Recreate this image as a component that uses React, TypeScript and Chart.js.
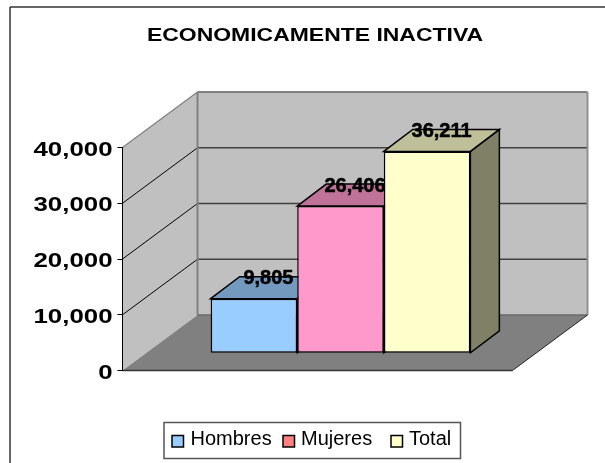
import React, { useEffect, useRef } from "react";
import { Chart, registerables, LinearScale } from "chart.js";

const chartTitle = "ECONOMICAMENTE INACTIVA";
const categories = [""];
const seriesNames = ["Hombres", "Mujeres", "Total"];
const hombres = [9805];
const mujeres = [26406];
const total = [36211];
const frontColors = ["#99CCFF", "#FF99CC", "#FFFFCC"];
const topColors = ["#7399BF", "#BF7399", "#BFBF99"];
const sideColors = ["#4D6680", "#804D66", "#808066"];
const legendColors = ["#99CCFF", "#FF8080", "#FFFFCC"];
const legendSwatchX = [172, 283, 391];
const legendTextX = [190.5, 301, 409];

const FONT = '"Liberation Sans", Arial, sans-serif';
const WALL_DX = 75;
const WALL_DY = -55.5;
const BAR_DX = 23;
const BAR_DY = -17.2;
const BAR_DEPTH_X = 29;
const BAR_DEPTH_Y = -22;
const TICK_STRETCH = 1.23;
const TITLE_STRETCH = 1.208;

class StretchedLinear extends LinearScale {
  static id = "stretchedLinear";
  static defaults = LinearScale.defaults;
  drawLabels(area: any) {
    const ctx = this.ctx;
    const anchor = this.left + this.width - 10;
    ctx.save();
    ctx.translate(anchor, 2.4);
    ctx.scale(TICK_STRETCH, 1);
    ctx.translate(-anchor, 0);
    super.drawLabels(area);
    ctx.restore();
  }
}

Chart.register(...registerables, StretchedLinear);

function poly(ctx: CanvasRenderingContext2D, pts: number[][], fill?: string, stroke?: string, lw = 1) {
  ctx.beginPath();
  pts.forEach((p, i) => (i ? ctx.lineTo(p[0], p[1]) : ctx.moveTo(p[0], p[1])));
  ctx.closePath();
  if (fill) {
    ctx.fillStyle = fill;
    ctx.fill();
  }
  if (stroke) {
    ctx.strokeStyle = stroke;
    ctx.lineWidth = lw;
    ctx.stroke();
  }
}

function line(ctx: CanvasRenderingContext2D, x1: number, y1: number, x2: number, y2: number, color: string, lw: number) {
  ctx.beginPath();
  ctx.moveTo(x1, y1);
  ctx.lineTo(x2, y2);
  ctx.strokeStyle = color;
  ctx.lineWidth = lw;
  ctx.stroke();
}

const scene3d = {
  id: "scene3d",
  beforeDraw(chart: any) {
    const ctx = chart.ctx as CanvasRenderingContext2D;
    const { left, right } = chart.chartArea;
    const y = chart.scales.y;
    const y0 = y.getPixelForValue(y.min);
    const yMax = y.getPixelForValue(y.max);

    const t = chart.titleBlock;
    if (t && !t.__wrapped) {
      const orig = t.draw.bind(t);
      t.draw = (...args: any[]) => {
        const c = (t.left + t.right) / 2;
        ctx.save();
        ctx.translate(315, 0);
        ctx.scale(TITLE_STRETCH, 1);
        ctx.translate(-c, 0);
        orig(...args);
        ctx.restore();
      };
      t.__wrapped = true;
    }

    ctx.save();
    // outer frame
    line(ctx, 10, 7, 605, 7, "#333333", 1.5);
    line(ctx, 10, 7, 10, 463, "#333333", 1.5);

    const bx = left + WALL_DX;
    const brx = right + WALL_DX;
    poly(ctx, [[left, yMax], [bx, yMax + WALL_DY], [bx, y0 + WALL_DY], [left, y0]], "#C0C0C0");
    poly(ctx, [[bx, yMax + WALL_DY], [brx, yMax + WALL_DY], [brx, y0 + WALL_DY], [bx, y0 + WALL_DY]], "#C0C0C0");
    poly(ctx, [[left, y0], [bx, y0 + WALL_DY], [brx, y0 + WALL_DY], [right, y0]], "#808080");

    for (const tick of y.ticks) {
      if (tick.value === y.min || tick.value === y.max) continue;
      const py = y.getPixelForValue(tick.value);
      line(ctx, left, py, bx, py + WALL_DY, "#000000", 1);
      line(ctx, bx, py + WALL_DY, brx, py + WALL_DY, "#404040", 1.3);
    }
    // wall edges
    line(ctx, left, yMax, bx, yMax + WALL_DY, "#808080", 1.3);
    line(ctx, bx, yMax + WALL_DY, brx, yMax + WALL_DY, "#808080", 2);
    line(ctx, bx, yMax + WALL_DY, bx, y0 + WALL_DY, "#808080", 2);
    line(ctx, brx, yMax + WALL_DY, brx, y0 + WALL_DY, "#909090", 2);
    line(ctx, bx, y0 + WALL_DY, brx, y0 + WALL_DY, "#6A6A6A", 1.5);
    // floor edges
    line(ctx, left, y0, right, y0, "#333333", 1.3);
    line(ctx, right, y0, brx, y0 + WALL_DY, "#222222", 1);
    ctx.restore();
  },
  beforeDatasetsDraw(chart: any) {
    const ctx = chart.ctx as CanvasRenderingContext2D;
    ctx.save();
    ctx.translate(BAR_DX, BAR_DY);
    ctx.lineJoin = "miter";
    chart.data.datasets.forEach((_: any, i: number) => {
      const bar = chart.getDatasetMeta(i).data[0];
      const l = bar.x - bar.width / 2;
      const r = bar.x + bar.width / 2;
      const top = bar.y;
      const base = bar.base;
      poly(ctx, [[r, top], [r + BAR_DEPTH_X, top + BAR_DEPTH_Y], [r + BAR_DEPTH_X, base + BAR_DEPTH_Y], [r, base]], sideColors[i], "#000000", 1.5);
      poly(ctx, [[l, top], [l + BAR_DEPTH_X, top + BAR_DEPTH_Y], [r + BAR_DEPTH_X, top + BAR_DEPTH_Y], [r, top]], topColors[i], "#000000", 1.5);
    });
  },
  afterDatasetsDraw(chart: any) {
    const ctx = chart.ctx as CanvasRenderingContext2D;
    ctx.restore();
    ctx.save();
    ctx.font = `bold 20px ${FONT}`;
    ctx.fillStyle = "#000000";
    ctx.strokeStyle = "#000000";
    ctx.lineWidth = 0.5;
    ctx.textAlign = "center";
    ctx.textBaseline = "middle";
    chart.data.datasets.forEach((ds: any, i: number) => {
      const bar = chart.getDatasetMeta(i).data[0];
      const label = Number(ds.data[0]).toLocaleString("en-US");
      const x = bar.x + BAR_DX + BAR_DEPTH_X / 2;
      const yy = bar.y + BAR_DY + BAR_DEPTH_Y + 2;
      ctx.fillText(label, x, yy);
      ctx.strokeText(label, x, yy);
    });
    ctx.restore();
  },
  afterDraw(chart: any) {
    const ctx = chart.ctx as CanvasRenderingContext2D;
    ctx.save();
    ctx.strokeStyle = "#555555";
    ctx.lineWidth = 1.5;
    ctx.strokeRect(164, 422.5, 296.5, 36);
    ctx.font = `20px ${FONT}`;
    ctx.textAlign = "left";
    ctx.textBaseline = "middle";
    seriesNames.forEach((name, i) => {
      ctx.fillStyle = legendColors[i];
      ctx.fillRect(legendSwatchX[i], 435.5, 11.5, 11.5);
      ctx.strokeStyle = "#000000";
      ctx.lineWidth = 1.5;
      ctx.strokeRect(legendSwatchX[i], 435.5, 11.5, 11.5);
      ctx.fillStyle = "#000000";
      ctx.fillText(name, legendTextX[i], 439.5);
    });
    ctx.restore();
  },
};

export default function App() {
  const ref = useRef<HTMLCanvasElement>(null);
  useEffect(() => {
    const values = [hombres, mujeres, total];
    const chart = new Chart(ref.current!, {
      type: "bar",
      data: {
        labels: categories,
        datasets: seriesNames.map((name, i) => ({
          label: name,
          data: values[i],
          backgroundColor: frontColors[i],
          borderColor: "#000000",
          borderWidth: 1.5,
          borderSkipped: false,
          categoryPercentage: 0.666,
          barPercentage: 1,
          clip: false,
        })),
      } as any,
      options: {
        responsive: false,
        animation: false,
        events: [],
        layout: { padding: { left: 0, top: 0, right: 92.5, bottom: 92.5 } },
        plugins: {
          legend: { display: false },
          tooltip: { enabled: false },
          title: {
            display: true,
            text: chartTitle,
            color: "#000000",
            font: { family: FONT, size: 19, weight: "bold", lineHeight: 1.2 },
            padding: { top: 24.6, bottom: 100.1 },
          },
        },
        scales: {
          x: { display: false },
          y: {
            type: "stretchedLinear",
            min: 0,
            max: 40000,
            afterFit: (s: any) => {
              s.width = 122.5;
            },
            ticks: {
              stepSize: 10000,
              color: "#000000",
              padding: 5,
              font: { family: FONT, size: 21, weight: "bold" },
              callback: (v: any) => Number(v).toLocaleString("en-US"),
            },
            grid: { drawOnChartArea: false, drawTicks: true, tickLength: 5, color: "#000000", lineWidth: 1 },
            border: { display: true, color: "#000000", width: 1 },
          },
        },
      } as any,
      plugins: [scene3d],
    });
    return () => chart.destroy();
  }, []);
  return (
    <canvas
      ref={ref}
      width={605}
      height={463}
      style={{ position: "fixed", left: 0, top: 0, width: 605, height: 463, display: "block" }}
    />
  );
}
